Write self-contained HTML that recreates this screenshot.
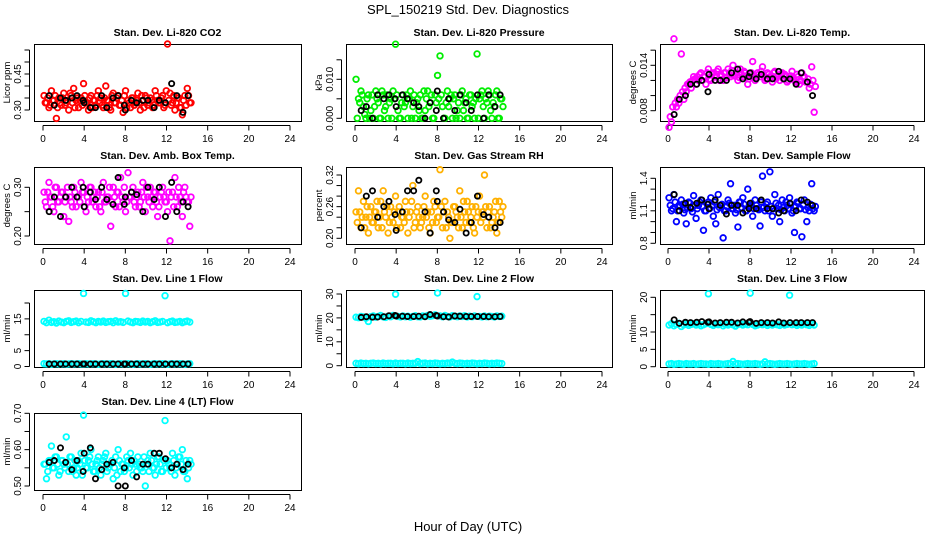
<!DOCTYPE html>
<html><head><meta charset="utf-8"><style>
html,body{margin:0;padding:0;background:#fff;}
svg{display:block;font-family:"Liberation Sans",sans-serif;}
</style></head><body>
<svg id="chart" width="936" height="540" viewBox="0 0 936 540">
<text x="468" y="14" text-anchor="middle" font-size="13">SPL_150219  Std. Dev. Diagnostics</text>
<text x="468" y="531" text-anchor="middle" font-size="13">Hour of Day (UTC)</text>
</svg>
<script>
const xTicks = [0,4,8,12,16,20,24];
const hours = [0.10,0.34,0.58,0.82,1.06,1.30,1.54,1.78,2.02,2.26,2.50,2.74,2.98,3.22,3.46,3.70,3.94,4.18,4.42,4.66,4.90,5.14,5.38,5.62,5.86,6.10,6.34,6.58,6.82,7.06,7.30,7.54,7.78,8.02,8.26,8.50,8.74,8.98,9.22,9.46,9.70,9.94,10.18,10.42,10.66,10.90,11.14,11.38,11.62,11.86,12.10,12.34,12.58,12.82,13.06,13.30,13.54,13.78,14.02,14.26];
const hours2 = [0.22,0.46,0.70,0.94,1.18,1.42,1.66,1.90,2.14,2.38,2.62,2.86,3.10,3.34,3.58,3.82,4.06,4.30,4.54,4.78,5.02,5.26,5.50,5.74,5.98,6.22,6.46,6.70,6.94,7.18,7.42,7.66,7.90,8.14,8.38,8.62,8.86,9.10,9.34,9.58,9.82,10.06,10.30,10.54,10.78,11.02,11.26,11.50,11.74,11.98,12.22,12.46,12.70,12.94,13.18,13.42,13.66,13.90,14.14,14.38];
const blackHours = [0.6,1.1,1.7,2.2,2.8,3.3,3.9,4.0,4.6,5.1,5.7,6.2,6.8,7.3,7.9,8.0,8.6,9.1,9.7,10.2,10.8,11.3,11.9,12.5,13.0,13.6,14.1];

const co2 = [0.36,0.33,0.31,0.38,0.34,0.265,0.35,0.32,0.37,0.33,0.30,0.36,0.39,0.34,0.31,0.35,0.41,0.33,0.30,0.36,0.34,0.32,0.38,0.35,0.31,0.40,0.34,0.30,0.37,0.33,0.36,0.32,0.29,0.38,0.34,0.31,0.35,0.33,0.37,0.30,0.34,0.36,0.32,0.35,0.31,0.38,0.34,0.33,0.36,0.32,0.575,0.37,0.33,0.30,0.35,0.31,0.28,0.36,0.39,0.33];
const co2B = [0.33,0.35,0.32,0.34,0.36,0.31,0.33,0.35,0.32,0.34,0.37,0.33,0.31,0.35,0.34,0.32,0.36,0.33,0.35,0.31,0.34,0.36,0.33,0.32,0.35,0.34,0.31,0.36,0.33,0.35,0.32,0.34,0.36,0.31,0.33,0.35,0.32,0.34,0.33,0.36,0.31,0.35,0.33,0.34,0.32,0.36,0.33,0.35,0.31,0.38,0.34,0.32,0.36,0.33,0.35,0.31,0.34,0.32,0.36,0.33];
const co2Black = [0.36,0.32,0.35,0.34,0.35,0.36,0.34,0.33,0.31,0.31,0.36,0.31,0.35,0.36,0.32,0.30,0.34,0.33,0.34,0.34,0.31,0.34,0.33,0.41,0.36,0.29,0.36];
const pressure = [0.010,0.005,0.007,0.003,0.000,0.006,0.002,0.000,0.007,0.004,0.000,0.006,0.003,0.000,0.005,0.007,0.019,0.002,0.000,0.006,0.004,0.000,0.007,0.003,0.000,0.005,0.006,0.000,0.002,0.007,0.004,0.000,0.006,0.011,0.016,0.003,0.000,0.007,0.005,0.000,0.006,0.002,0.000,0.007,0.004,0.000,0.006,0.003,0.000,0.0165,0.005,0.007,0.000,0.004,0.006,0.000,0.003,0.007,0.000,0.005];
const pressureB = [0.000,0.004,0.006,0.001,0.005,0.000,0.006,0.003,0.005,0.000,0.007,0.002,0.006,0.004,0.000,0.005,0.006,0.000,0.004,0.003,0.006,0.005,0.000,0.006,0.004,0.002,0.000,0.007,0.005,0.003,0.006,0.000,0.004,0.005,0.006,0.000,0.004,0.003,0.006,0.005,0.000,0.004,0.006,0.002,0.005,0.000,0.006,0.004,0.005,0.000,0.006,0.003,0.005,0.007,0.002,0.004,0.006,0.000,0.005,0.003];
const pressureBlack = [0.002,0.003,0.000,0.006,0.005,0.006,0.005,0.003,0.006,0.005,0.004,0.003,0.000,0.004,0.002,0.007,0.000,0.005,0.002,0.006,0.004,0.002,0.006,0.000,0.006,0.003,0.006];
const licorTemp = [0.0058,0.0065,0.0175,0.0085,0.009,0.0155,0.0095,0.0105,0.0115,0.011,0.0125,0.0115,0.012,0.013,0.0125,0.0115,0.0135,0.012,0.013,0.0125,0.0135,0.0128,0.012,0.013,0.0135,0.0125,0.014,0.0128,0.012,0.0135,0.0125,0.013,0.0115,0.0128,0.0145,0.012,0.013,0.0125,0.0138,0.012,0.013,0.0125,0.0118,0.0132,0.0125,0.012,0.013,0.0128,0.0118,0.0125,0.0132,0.012,0.0128,0.0115,0.013,0.0125,0.0118,0.011,0.0138,0.0078];
const licorTempB = [0.0072,0.0085,0.0090,0.0095,0.0100,0.0105,0.0110,0.0115,0.0118,0.0120,0.0122,0.0125,0.0128,0.0120,0.0125,0.0130,0.0122,0.0128,0.0125,0.0132,0.0120,0.0126,0.0130,0.0124,0.0128,0.0133,0.0126,0.0130,0.0124,0.0128,0.0132,0.0126,0.0122,0.0130,0.0126,0.0124,0.0128,0.0132,0.0126,0.0122,0.0128,0.0124,0.0130,0.0122,0.0126,0.0128,0.0122,0.0125,0.0120,0.0126,0.0122,0.0118,0.0125,0.0120,0.0124,0.0118,0.0122,0.0115,0.0120,0.0112];
const licorTempBlack = [0.0075,0.0095,0.010,0.0115,0.0115,0.012,0.0105,0.0128,0.012,0.012,0.012,0.013,0.0135,0.0122,0.0125,0.013,0.0122,0.0128,0.0122,0.0122,0.0132,0.0122,0.0122,0.0115,0.013,0.0118,0.010];
const boxTemp = [0.29,0.26,0.31,0.28,0.25,0.30,0.27,0.29,0.24,0.28,0.23,0.27,0.30,0.26,0.28,0.31,0.29,0.25,0.27,0.30,0.28,0.26,0.29,0.25,0.31,0.27,0.28,0.22,0.30,0.26,0.29,0.32,0.27,0.25,0.33,0.28,0.30,0.26,0.29,0.27,0.31,0.25,0.28,0.30,0.26,0.29,0.24,0.28,0.30,0.27,0.25,0.19,0.29,0.32,0.26,0.28,0.24,0.30,0.27,0.22];
const boxTempB = [0.27,0.29,0.28,0.26,0.30,0.27,0.28,0.29,0.27,0.30,0.28,0.26,0.29,0.28,0.27,0.29,0.26,0.28,0.30,0.27,0.29,0.28,0.26,0.29,0.27,0.28,0.30,0.27,0.28,0.29,0.26,0.28,0.30,0.27,0.28,0.29,0.27,0.28,0.26,0.29,0.28,0.30,0.27,0.28,0.29,0.27,0.26,0.29,0.28,0.27,0.29,0.28,0.26,0.28,0.30,0.27,0.29,0.28,0.27,0.28];
const boxTempBlack = [0.25,0.28,0.24,0.28,0.30,0.28,0.30,0.26,0.29,0.275,0.30,0.275,0.265,0.32,0.265,0.28,0.29,0.285,0.25,0.30,0.275,0.30,0.24,0.31,0.25,0.27,0.26];
const rh = [0.25,0.29,0.22,0.27,0.24,0.21,0.26,0.23,0.25,0.22,0.27,0.29,0.24,0.21,0.26,0.23,0.28,0.25,0.22,0.24,0.27,0.21,0.25,0.30,0.23,0.26,0.22,0.24,0.28,0.25,0.21,0.23,0.26,0.24,0.33,0.22,0.27,0.25,0.20,0.23,0.26,0.24,0.29,0.22,0.25,0.27,0.23,0.26,0.21,0.24,0.28,0.25,0.32,0.22,0.26,0.23,0.25,0.21,0.27,0.24];
const rhB = [0.23,0.25,0.24,0.22,0.26,0.24,0.23,0.25,0.27,0.24,0.22,0.25,0.26,0.23,0.24,0.25,0.22,0.26,0.24,0.23,0.25,0.24,0.27,0.22,0.25,0.24,0.23,0.26,0.24,0.22,0.25,0.27,0.23,0.24,0.26,0.25,0.22,0.24,0.23,0.26,0.25,0.22,0.24,0.27,0.23,0.25,0.24,0.22,0.26,0.25,0.23,0.24,0.26,0.25,0.22,0.24,0.27,0.23,0.25,0.26];
const rhBlack = [0.22,0.28,0.29,0.24,0.26,0.27,0.245,0.215,0.25,0.29,0.29,0.31,0.25,0.21,0.29,0.27,0.25,0.235,0.23,0.255,0.21,0.23,0.28,0.245,0.24,0.22,0.23];
const sampleFlow = [1.22,1.10,1.25,1.00,1.15,1.20,1.08,0.98,1.18,1.12,1.24,1.03,1.15,1.20,0.92,1.10,1.18,1.22,1.05,0.98,1.25,1.15,0.85,1.10,1.20,1.35,1.12,1.08,0.95,1.18,1.22,1.10,1.30,1.15,1.05,1.20,1.12,0.96,1.42,1.10,1.18,1.46,1.05,1.25,1.12,1.00,1.20,1.10,1.15,1.22,1.08,0.90,1.18,1.12,0.86,1.20,1.00,1.10,1.35,1.10];
const sampleFlowB = [1.15,1.12,1.18,1.10,1.14,1.16,1.11,1.13,1.17,1.09,1.15,1.12,1.18,1.14,1.10,1.16,1.12,1.15,1.18,1.11,1.13,1.16,1.10,1.14,1.17,1.12,1.15,1.11,1.18,1.13,1.16,1.10,1.14,1.17,1.12,1.15,1.11,1.18,1.13,1.16,1.10,1.14,1.12,1.17,1.15,1.11,1.13,1.18,1.12,1.16,1.10,1.14,1.17,1.12,1.15,1.11,1.13,1.16,1.12,1.14];
const sampleFlowBlack = [1.25,1.10,1.17,1.13,1.17,1.20,1.16,1.12,1.20,1.15,1.07,1.15,1.15,1.08,1.12,1.17,1.12,1.20,1.12,1.12,1.08,1.10,1.17,1.10,1.20,1.18,1.15];
const line1 = [14.2,13.8,14.6,13.9,14.1,13.7,14.3,14.0,13.8,14.2,14.4,13.9,14.1,14.3,13.8,14.2,23.0,14.0,13.9,14.4,14.1,13.8,14.2,14.0,14.3,13.9,14.1,14.2,13.8,14.4,14.0,14.1,13.9,23.0,14.3,14.0,13.8,14.2,14.1,13.9,14.3,14.0,14.2,13.8,14.1,14.4,13.9,14.0,14.2,22.3,13.8,14.1,14.3,13.9,14.0,14.2,13.8,14.1,14.3,14.0];
const line1Low = [0.9,0.8,0.9,0.7,0.8,0.9,0.8,0.8,0.9,0.7,0.8,0.9,0.8,0.8,0.9,0.8,0.7,0.9,0.8,0.8,0.9,0.8,0.7,0.8,0.9,0.8,0.8,0.9,0.8,0.7,0.8,0.9,0.8,0.8,0.9,0.8,0.7,0.8,0.9,0.8,0.8,0.9,0.8,0.7,0.8,0.9,0.8,0.8,0.9,0.8,0.7,0.8,0.9,0.8,0.8,0.9,0.8,0.7,0.8,0.9];
const line1Black = [0.8,0.8,0.8,0.8,0.8,0.8,0.8,0.8,0.8,0.8,0.8,0.8,0.8,0.8,0.8,0.8,0.8,0.8,0.8,0.8,0.8,0.8,0.8,0.8,0.8,0.8,0.8];
const line2 = [20.3,20.1,20.6,20.4,19.9,18.5,20.5,20.8,20.3,20.6,21.0,20.4,20.2,20.7,20.5,21.0,29.9,20.6,20.4,20.8,20.5,20.7,20.3,20.6,20.9,20.5,20.4,20.8,20.6,21.0,20.7,20.9,21.3,30.4,20.8,20.5,21.0,20.6,20.4,20.9,20.7,20.5,20.8,20.6,20.9,20.4,20.7,20.5,20.8,28.9,20.6,20.4,20.8,20.5,20.7,20.6,20.4,20.8,20.6,20.7];
const line2Low = [1.0,0.8,1.1,0.9,1.0,0.8,1.0,1.1,0.9,1.0,0.8,1.1,0.9,1.0,1.0,0.8,1.1,0.9,1.0,1.0,0.8,1.1,0.9,1.0,1.0,1.7,0.9,1.0,1.1,0.8,1.0,0.9,1.1,1.0,0.8,1.0,0.9,1.1,1.0,1.5,1.0,0.9,1.1,1.0,0.8,1.0,0.9,1.1,1.0,0.8,1.0,0.9,1.1,1.0,0.8,1.0,0.9,1.1,1.0,0.9];
const line2Black = [20.2,20.5,20.3,20.4,20.5,20.9,21.0,20.8,20.7,20.6,20.6,20.7,20.5,21.4,21.0,20.8,20.5,20.4,20.8,20.7,20.6,20.6,20.6,20.6,20.5,20.5,20.6];
const line3 = [12.0,12.4,11.8,12.2,12.5,11.6,12.1,12.3,11.9,12.2,12.4,12.0,12.3,11.8,12.1,12.4,21.0,12.2,11.9,12.3,12.1,12.4,11.8,12.2,12.0,12.3,12.1,11.7,12.2,12.4,12.0,12.3,12.1,21.2,12.2,11.8,12.0,12.3,12.1,12.4,11.9,12.2,12.0,12.3,12.1,11.9,12.4,12.0,12.2,20.6,12.1,12.3,11.9,12.2,12.0,12.4,12.1,11.9,12.3,12.0];
const line3Low = [0.8,0.9,0.7,0.8,0.9,0.8,0.7,0.9,0.8,0.8,0.9,0.7,0.8,0.9,0.8,0.8,0.7,0.9,0.8,0.8,0.9,0.8,0.7,0.8,0.9,0.8,1.5,0.8,0.9,0.8,0.7,0.8,0.9,0.8,0.8,0.9,0.8,0.7,0.8,1.4,0.8,0.9,0.8,0.7,0.8,0.9,0.8,0.8,0.9,0.8,0.7,0.8,0.9,0.8,0.8,0.9,0.8,0.7,0.8,0.9];
const line3Black = [13.5,12.5,12.8,12.7,12.8,13.0,12.8,12.9,12.6,12.7,12.8,12.8,12.6,12.9,12.8,13.0,12.5,12.7,12.7,12.6,12.9,12.6,12.7,12.7,12.7,12.7,12.7];
const line4 = [0.56,0.52,0.57,0.61,0.55,0.58,0.53,0.57,0.56,0.635,0.54,0.58,0.55,0.53,0.57,0.59,0.695,0.55,0.57,0.60,0.54,0.56,0.58,0.53,0.57,0.59,0.55,0.56,0.52,0.58,0.60,0.54,0.56,0.55,0.57,0.59,0.53,0.56,0.58,0.55,0.54,0.50,0.57,0.59,0.55,0.53,0.58,0.56,0.54,0.68,0.57,0.55,0.59,0.53,0.56,0.58,0.60,0.54,0.52,0.57];
const line4B = [0.56,0.54,0.57,0.55,0.58,0.56,0.54,0.57,0.55,0.56,0.58,0.54,0.57,0.55,0.56,0.53,0.57,0.55,0.58,0.56,0.54,0.57,0.55,0.56,0.58,0.54,0.56,0.57,0.55,0.53,0.57,0.56,0.54,0.58,0.55,0.56,0.57,0.54,0.56,0.55,0.58,0.56,0.54,0.57,0.55,0.56,0.58,0.54,0.57,0.55,0.56,0.54,0.57,0.55,0.58,0.56,0.54,0.57,0.55,0.56];
const line4Black = [0.565,0.57,0.605,0.565,0.545,0.57,0.54,0.59,0.605,0.52,0.545,0.56,0.565,0.50,0.55,0.50,0.57,0.525,0.56,0.56,0.59,0.59,0.575,0.55,0.56,0.545,0.56];

const co2Ticks=[0.30,0.35,0.40,0.45,0.50,0.55], co2Labels=["0.30","","","0.45","",""];
const pressTicks=[0,0.005,0.010,0.015], pressLabels=["0.000","","0.010",""];
const tempTicks=[0.008,0.010,0.012,0.014,0.016], tempLabels=["0.008","","","0.014",""];
const boxTicks=[0.20,0.25,0.30], boxLabels=["0.20","","0.30"];
const rhTicks=[0.20,0.22,0.24,0.26,0.28,0.30,0.32], rhLabels=["0.20","","","0.26","","","0.32"];
const sfTicks=[0.8,0.9,1.0,1.1,1.2,1.3,1.4], sfLabels=["0.8","","","1.1","","","1.4"];
const l1Ticks=[0,5,10,15,20], l1Labels=["0","5","","15",""];
const l2Ticks=[0,5,10,15,20,25,30], l2Labels=["0","","10","","20","","30"];
const l3Ticks=[0,5,10,15,20], l3Labels=["0","5","10","","20"];
const l4Ticks=[0.50,0.55,0.60,0.65,0.70], l4Labels=["0.50","","0.60","","0.70"];

const NS="http://www.w3.org/2000/svg";
const svg=document.getElementById('chart');
const cols=[{l:34,r:301,x0:43,x24:290},{l:346,r:612,x0:355,x24:602},{l:660,r:924,x0:668,x24:914}];
const rowTops=[44,167,290,413];
const BOXH=77;

const panels=[
 {name:'co2',title:'Stan. Dev. Li-820 CO2',yl:'Licor ppm',c:0,r:0,col:'#ff0000',s:[[co2,hours],[co2B,hours2]],b:co2Black,cal:[0.30,110,0.45,74],t:co2Ticks,tl:co2Labels},
 {name:'pressure',title:'Stan. Dev. Li-820 Pressure',yl:'kPa',c:1,r:0,col:'#00ee00',s:[[pressure,hours],[pressureB,hours2]],b:pressureBlack,cal:[0,118.3,0.010,79.3],t:pressTicks,tl:pressLabels},
 {name:'licor-temp',title:'Stan. Dev. Li-820 Temp.',yl:'degrees C',c:2,r:0,col:'#ff00ff',s:[[licorTemp,hours],[licorTempB,hours2]],b:licorTempBlack,cal:[0.008,110.7,0.014,65.3],t:tempTicks,tl:tempLabels},
 {name:'box-temp',title:'Stan. Dev. Amb. Box Temp.',yl:'degrees C',c:0,r:1,col:'#ff00ff',s:[[boxTemp,hours],[boxTempB,hours2]],b:boxTempBlack,cal:[0.20,236,0.30,187.3],t:boxTicks,tl:boxLabels},
 {name:'rh',title:'Stan. Dev. Gas Stream RH',yl:'percent',c:1,r:1,col:'#ffb000',s:[[rh,hours],[rhB,hours2]],b:rhBlack,cal:[0.20,238.3,0.32,175],t:rhTicks,tl:rhLabels},
 {name:'sample-flow',title:'Stan. Dev. Sample Flow',yl:'ml/min',c:2,r:1,col:'#0000ff',s:[[sampleFlow,hours],[sampleFlowB,hours2]],b:sampleFlowBlack,cal:[0.8,243.3,1.4,178.3],t:sfTicks,tl:sfLabels},
 {name:'line1',title:'Stan. Dev. Line 1 Flow',yl:'ml/min',c:0,r:2,col:'#00ffff',s:[[line1,hours],[line1Low,hours]],b:line1Black,cal:[0,366.5,20,303],t:l1Ticks,tl:l1Labels},
 {name:'line2',title:'Stan. Dev. Line 2 Flow',yl:'ml/min',c:1,r:2,col:'#00ffff',s:[[line2,hours],[line2Low,hours]],b:line2Black,cal:[0,365.7,30,294],t:l2Ticks,tl:l2Labels},
 {name:'line3',title:'Stan. Dev. Line 3 Flow',yl:'ml/min',c:2,r:2,col:'#00ffff',s:[[line3,hours],[line3Low,hours]],b:line3Black,cal:[0,366.7,20,297.3],t:l3Ticks,tl:l3Labels},
 {name:'line4',title:'Stan. Dev. Line 4 (LT) Flow',yl:'ml/min',c:0,r:3,col:'#00ffff',s:[[line4,hours],[line4B,hours2]],b:line4Black,cal:[0.50,486,0.70,413.3],t:l4Ticks,tl:l4Labels}
];

function mk(tag,attrs,parent){const e=document.createElementNS(NS,tag);for(const k in attrs)e.setAttribute(k,attrs[k]);parent.appendChild(e);return e;}

panels.forEach(p=>{
 const C=cols[p.c], top=rowTops[p.r], bot=top+BOXH;
 const g=mk('g',{},svg);
 
 
 const xs=v=>C.x0+(C.x24-C.x0)*v/24;
 const [v1,p1,v2,p2]=p.cal;
 const ys=v=>p1+(v-v1)*(p2-p1)/(v2-v1);
 const title=mk('text',{x:(C.l+C.r)/2,y:top-8,'text-anchor':'middle','font-size':'10.5','font-weight':'bold'},g);
 title.textContent=p.title;
 
 
 const box=mk('rect',{x:C.l+0.5,y:top+0.5,width:C.r-C.l,height:BOXH,fill:'none',stroke:'#000','stroke-width':1},g);
 
 
 const xa=mk('g',{},g);
 
 
 const ay=bot+4.5;
 mk('line',{x1:xs(0),x2:xs(24),y1:ay,y2:ay,stroke:'#000'},xa);
 xTicks.forEach(t=>{
  mk('line',{x1:xs(t),x2:xs(t),y1:ay,y2:ay+5,stroke:'#000'},xa);
  const tx=mk('text',{x:xs(t),y:bot+21,'text-anchor':'middle','font-size':'10'},xa);
  tx.textContent=String(t);
  
  
 });
 const ya=mk('g',{},g);
 
 
 const ax=C.l-4.5;
 mk('line',{x1:ax,x2:ax,y1:ys(p.t[0]),y2:ys(p.t[p.t.length-1]),stroke:'#000'},ya);
 p.t.forEach((t,i)=>{
  const y=ys(t);
  mk('line',{x1:ax-5,x2:ax,y1:y,y2:y,stroke:'#000'},ya);
  if(p.tl[i]){
   const tx=mk('text',{x:0,y:0,'text-anchor':'middle','font-size':'10',transform:`translate(${C.l-13},${y}) rotate(-90)`},ya);
   tx.textContent=p.tl[i];
   
   
  }
 });
 const ylab=mk('text',{x:0,y:0,'text-anchor':'middle','font-size':'9.5',transform:`translate(${C.l-24},${top+BOXH/2}) rotate(-90)`},g);
 ylab.textContent=p.yl;
 
 
 const pts=mk('g',{fill:'none','stroke-width':1.8},g);
 
 
 p.s.forEach(([arr,hs])=>{
  arr.forEach((v,i)=>{
   const c=mk('circle',{cx:xs(hs[i]),cy:ys(v),r:2.8,stroke:p.col},pts);
   
   
  });
 });
 p.b.forEach((v,i)=>{
  const c=mk('circle',{cx:xs(blackHours[i]),cy:ys(v),r:2.6,stroke:'#000'},pts);
  
  
 });
});
</script>
</body></html>
